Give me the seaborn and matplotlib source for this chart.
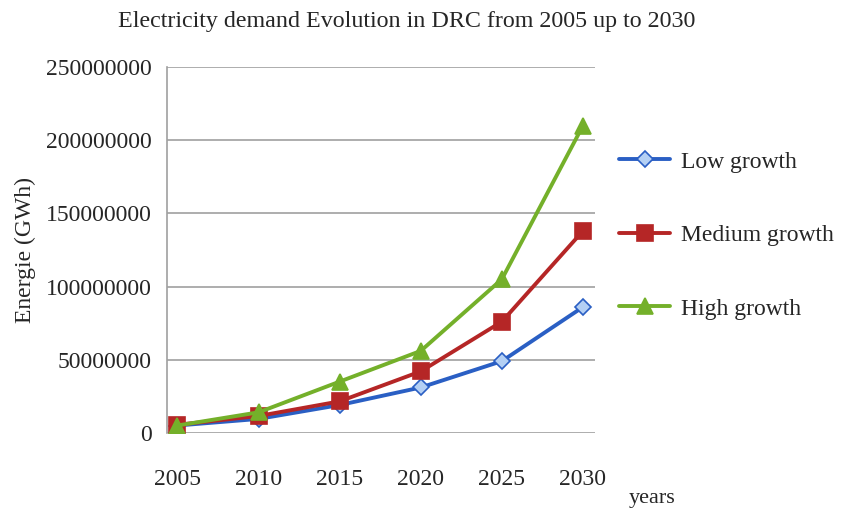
import numpy as np
import pandas as pd
import seaborn as sns
from matplotlib import pyplot as plt

years = ["2005", "2010", "2015", "2020", "2025", "2030"]
low_growth = [5e6, 9.5e6, 19e6, 31e6, 49e6, 86e6]
medium_growth = [5.5e6, 11.5e6, 21.5e6, 42e6, 76e6, 138e6]
high_growth = [5e6, 14e6, 35e6, 56e6, 105e6, 210e6]
series_names = ["Low growth", "Medium growth", "High growth"]

df = pd.DataFrame({
    "year": years * 3,
    "x": list(range(len(years))) * 3,
    "value": low_growth + medium_growth + high_growth,
    "scenario": np.repeat(series_names, len(years)),
})

sns.set_style("white")
plt.rcParams["font.family"] = ["Liberation Serif", "DejaVu Serif"]

colors = {"Low growth": "#2a5fc4", "Medium growth": "#b52626", "High growth": "#74b02a"}
markers = {"Low growth": "D", "Medium growth": "s", "High growth": "^"}
faces = {"Low growth": "#b4d0f4", "Medium growth": "#b52626", "High growth": "#74b02a"}
sizes = {"Low growth": 8.5, "Medium growth": 12, "High growth": 12}

fig, ax = plt.subplots(figsize=(8.43, 5.08), dpi=100)
fig.subplots_adjust(left=0.198, right=0.706, top=0.868, bottom=0.148)

for name in series_names:
    sub = df[df["scenario"] == name]
    sns.lineplot(data=sub, x="x", y="value", ax=ax, color=colors[name], lw=2.8,
                 marker=markers[name], markersize=sizes[name], markerfacecolor=faces[name],
                 markeredgecolor=colors[name], markeredgewidth=1.2, label=name)

ax.set_xlim(-0.13, 5.15)
ax.set_ylim(0, 250e6)
ax.set_yticks(np.arange(0, 250e6 + 1, 50e6))
ax.set_yticklabels([f"{int(v)}" for v in np.arange(0, 250e6 + 1, 50e6)], fontsize=17)
ax.set_xticks(range(len(years)))
ax.set_xticklabels(years, fontsize=17)
ax.tick_params(axis="x", length=0, pad=26)
ax.tick_params(axis="y", length=0, pad=11)
ax.yaxis.grid(True, color="#a0a0a0", lw=1.2)
ax.set_axisbelow(True)
for side in ["top", "right", "bottom"]:
    ax.spines[side].set_visible(False)
ax.spines["left"].set_color("#a0a0a0")
ax.spines["left"].set_linewidth(1.2)

ax.set_xlabel("")
ax.set_ylabel("")
fig.text(0.03, 0.507, "Energie (GWh)", fontsize=17, rotation=90, ha="center", va="center")
fig.text(0.746, 0.01, "years", fontsize=16)
fig.text(0.483, 0.957, "Electricity demand Evolution in DRC from 2005 up to 2030",
         fontsize=17.3, ha="center", va="center")

ax.legend(loc="center left", bbox_to_anchor=(1.005, 0.54), frameon=False, fontsize=17,
          labelspacing=2.2, handlelength=2.2, handletextpad=0.45)

plt.savefig("out.png", dpi=100)
